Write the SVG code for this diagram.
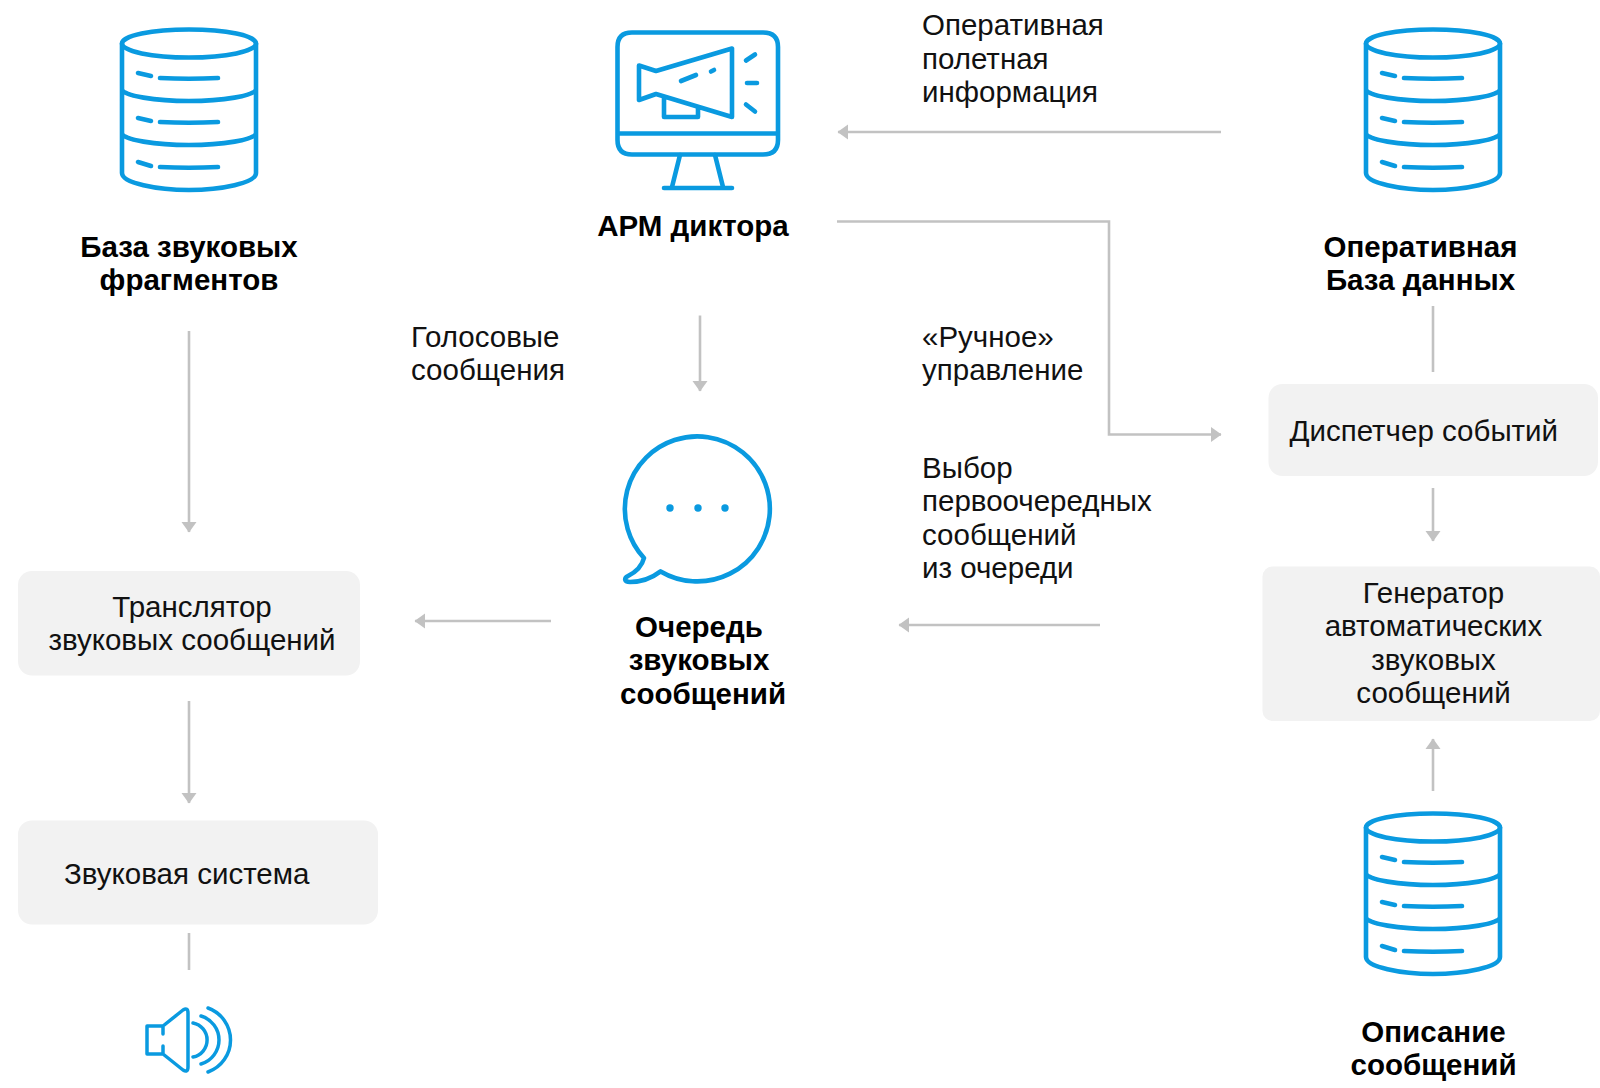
<svg xmlns="http://www.w3.org/2000/svg" width="1600" height="1088" viewBox="0 0 1600 1088">
<style>
text{font-family:"Liberation Sans",Arial,sans-serif;font-size:29.5px;fill:#111}
.b{font-weight:700;fill:#000}
.m{text-anchor:middle}
.box{fill:#f2f2f2}
.i{fill:none;stroke:#0a9ae0;stroke-width:4.600;stroke-linecap:round;stroke-linejoin:round}
.c{fill:none;stroke:#c2c2c2;stroke-width:2.600}
.a{marker-end:url(#ar)}
</style>
<defs>
<marker id="ar" markerUnits="userSpaceOnUse" markerWidth="12" markerHeight="16" refX="10" refY="8" orient="auto"><path d="M0 0.5L10.5 8L0 15.5Z" fill="#c2c2c2"/></marker>
<g id="db">
<ellipse cx="0" cy="16.500" rx="67" ry="14"/>
<path d="M-67 16.500V146C-67 156-32 163 0 163S67 156 67 146V16.500M-67 62C-67 69-32 74 0 74S67 69 67 62M-67 106C-67 113-32 118 0 118S67 113 67 106"/>
<path d="M-51 46L-38 49M-29 51C-10 52 10 52 29 51M-51 91L-38 94M-29 95C-10 96 10 96 29 95M-51 135L-38 139M-29 140C-10 141 10 141 29 140"/>
</g>
</defs>
<g id="connectors">
<path class="c a" d="M1221 132H838"/>
<path class="c a" d="M837 221.500H1109V434.500H1221"/>
<path class="c a" d="M700 315.500V391"/>
<path class="c a" d="M189 331V532"/>
<path class="c a" d="M551 621H415"/>
<path class="c a" d="M1100 625H899"/>
<path class="c a" d="M189 701V803"/>
<path class="c" d="M189 933V970"/>
<path class="c" d="M1433 306V372"/>
<path class="c a" d="M1433 488V541"/>
<path class="c a" d="M1433 791V739"/>
</g>
<g id="db-fragments"><use href="#db" class="i" x="189" y="27"/><text class="b m" x="189" y="257">База звуковых</text><text class="b m" x="189" y="290">фрагментов</text></g>
<g id="arm">
<path class="i" d="M632 32.500H763Q778 32.500 778 47V140Q778 154.500 763 154.500H632Q617.500 154.500 617.500 140V47Q617.500 32.500 632 32.500ZM617.500 133.500H778"/>
<path class="i" d="M639 65.500L656 71L732 48.500V117L656 94L639 100ZM664 98V117H698V107M681 81L696 75M711 71.500L714 70M746 60.500L755 54.500M747 83H757M746 104.500L755 111.500M680 155L672 187M715 155L723 187M664 188H732"/>
<text class="b m" x="693" y="236">АРМ диктора</text></g>
<g id="db-operative"><use href="#db" class="i" x="1433" y="27"/><text class="b m" x="1420.500" y="257">Оперативная</text><text class="b m" x="1420.500" y="290">База данных</text></g>
<g id="queue">
<path class="i" d="M644 558A72.500 72.500 0 1 1 660.600 571.400C652 578 640 582 630 582C624 582 624 578 628 576C636 572 642 566 644 558Z"/>
<circle cx="670" cy="508" r="3.700" fill="#0a9ae0"/><circle cx="698" cy="508" r="3.700" fill="#0a9ae0"/><circle cx="725" cy="508" r="3.700" fill="#0a9ae0"/>
<text class="b m" x="699" y="637">Очередь</text><text class="b m" x="699" y="670">звуковых</text><text class="b m" x="703" y="704">сообщений</text></g>
<g id="translator"><rect class="box" x="18" y="571" width="342" height="104.500" rx="14"/><text class="m" x="192" y="617">Транслятор</text><text class="m" x="192" y="650">звуковых сообщений</text></g>
<g id="sound-system"><rect class="box" x="18" y="820.500" width="360" height="104" rx="14"/><text x="64" y="884">Звуковая система</text></g>
<g id="speaker"><path class="i" style="stroke-width:3.5" d="M147 1026H163L183 1010Q188 1007 188 1013V1067Q188 1073 183 1070L163 1054H147ZM163 1026V1034M163 1046V1054M193 1023A17.300 17.300 0 0 1 193 1057M201 1016A25 25 0 0 1 201 1064M208 1008A34 34 0 0 1 208 1072"/></g>
<g id="dispatcher"><rect class="box" x="1268.500" y="384" width="329.500" height="92" rx="14"/><text x="1289.500" y="441">Диспетчер событий</text></g>
<g id="generator"><rect class="box" x="1262.500" y="566.500" width="337.500" height="154.500" rx="10"/><text class="m" x="1433.500" y="603">Генератор</text><text class="m" x="1433.500" y="636">автоматических</text><text class="m" x="1433.500" y="670">звуковых</text><text class="m" x="1433.500" y="703">сообщений</text></g>
<g id="db-description"><use href="#db" class="i" x="1433" y="811"/><text class="b m" x="1433.500" y="1042">Описание</text><text class="b m" x="1433.500" y="1075">сообщений</text></g>
<g id="labels">
<text x="922" y="35">Оперативная</text><text x="922" y="69">полетная</text><text x="922" y="102">информация</text>
<text x="411" y="347">Голосовые</text><text x="411" y="380">сообщения</text>
<text x="922" y="347">«Ручное»</text><text x="922" y="380">управление</text>
<text x="922" y="478">Выбор</text><text x="922" y="511">первоочередных</text><text x="922" y="545">сообщений</text><text x="922" y="578">из очереди</text>
</g>
</svg>
